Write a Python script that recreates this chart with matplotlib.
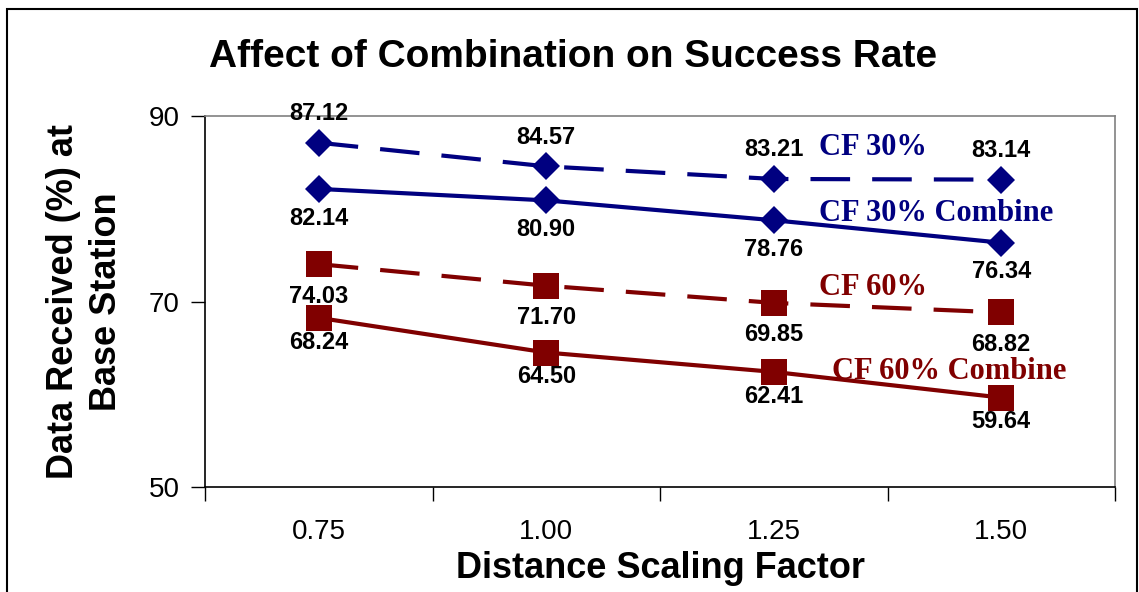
import numpy as np
import matplotlib
matplotlib.use('Agg')
import matplotlib.pyplot as plt
from matplotlib.patches import Rectangle

plt.rcParams['font.family'] = ['Liberation Sans', 'DejaVu Sans']

scaling = ['0.75', '1.00', '1.25', '1.50']
cf30 = [87.12, 84.57, 83.21, 83.14]
cf30_combine = [82.14, 80.90, 78.76, 76.34]
cf60 = [74.03, 71.70, 69.85, 68.82]
cf60_combine = [68.24, 64.50, 62.41, 59.64]

navy = '#000080'
maroon = '#800000'

fig = plt.figure(figsize=(11.39, 5.92), dpi=100)
ax = fig.add_axes([205/1139, 105/592, 910/1139, 371/592])

x = np.arange(1, len(scaling) + 1)

# (values, colour, marker, markersize, dashed, label offset in points)
series = [
	(cf30, navy, 'D', 14.3, True, 21),
	(cf30_combine, navy, 'D', 14.3, False, -21),
	(cf60, maroon, 's', 18.5, True, -23),
	(cf60_combine, maroon, 's', 18.5, False, -17.5),
]

for vals, col, mk, ms, dashed, off in series:
	ls = (0, (9.5, 5.3)) if dashed else '-'
	ax.plot(x, vals, color=col, lw=3, linestyle=ls, marker=mk, ms=ms,
			markeredgewidth=0, clip_on=False, zorder=3)
	for xi, v in zip(x, vals):
		ax.annotate(f'{v:.2f}', (xi, v), xytext=(0, off), textcoords='offset points',
					ha='center', va='center', fontsize=17, fontweight='bold', zorder=4)

# series names next to the lines
serif = ['Liberation Serif', 'DejaVu Serif']
ax.text(3.20, 86.55, 'CF 30%', color=navy, fontsize=22, fontweight='bold', family=serif, va='center')
ax.text(3.20, 79.5, 'CF 30% Combine', color=navy, fontsize=22, fontweight='bold', family=serif, va='center')
ax.text(3.20, 71.56, 'CF 60%', color=maroon, fontsize=22, fontweight='bold', family=serif, va='center')
ax.text(3.256, 62.5, 'CF 60% Combine', color=maroon, fontsize=22, fontweight='bold', family=serif, va='center')

ax.set_xlim(0.5, len(scaling) + 0.5)
ax.set_ylim(50, 90)
ax.set_yticks([50, 70, 90])
ax.set_xticks(np.arange(0.5, len(scaling) + 1, 1))
ax.set_xticklabels([])
ax.set_xticks(x, minor=True)
ax.set_xticklabels(scaling, minor=True)
ax.tick_params(axis='x', which='minor', length=0, labelsize=20, pad=23)
ax.tick_params(axis='x', which='major', length=10, width=1, direction='out')
ax.tick_params(axis='y', length=10, width=1, labelsize=20, pad=8)

for side in ['top', 'right']:
	ax.spines[side].set_color('#808080')
	ax.spines[side].set_linewidth(1.2)
for side in ['left', 'bottom']:
	ax.spines[side].set_linewidth(1.2)

ax.set_xlabel('Distance Scaling Factor', fontsize=26, fontweight='bold', labelpad=4)
ax.set_ylabel('Data Received (%) at\nBase Station', fontsize=26, fontweight='bold',
			  labelpad=18, linespacing=1.3)

fig.text(573/1139, 1 - 57/592, 'Affect of Combination on Success Rate',
		 ha='center', va='center', fontsize=28, fontweight='bold')

# outer chart frame
fig.add_artist(Rectangle((7/1139, -0.05), 1130/1139, 0.05 + 583/592,
						 transform=fig.transFigure, fill=False, lw=1.5, ec='black'))

plt.savefig('out.png', dpi=100)
